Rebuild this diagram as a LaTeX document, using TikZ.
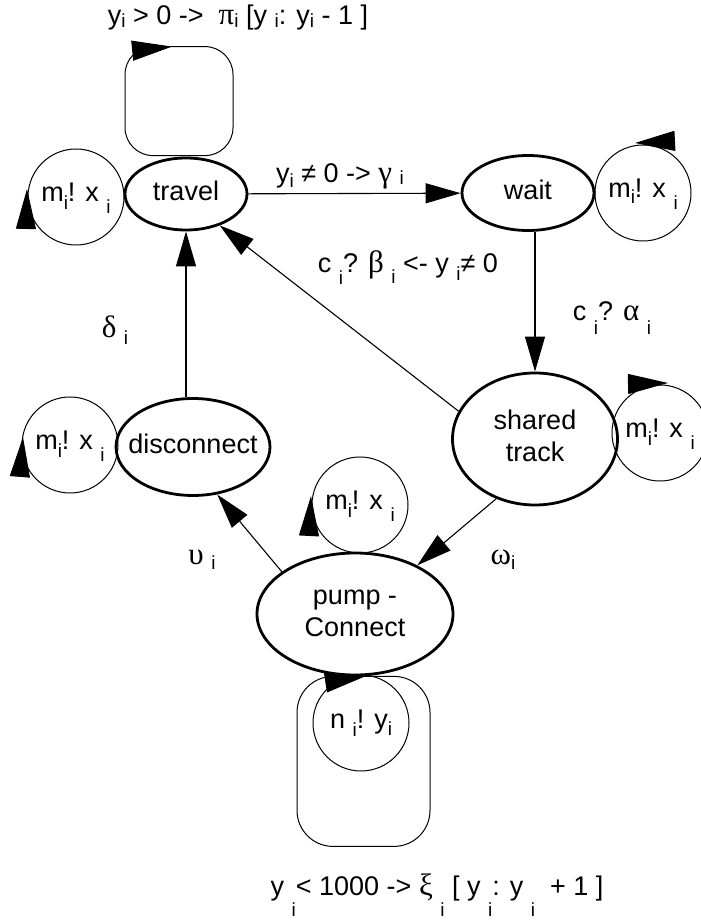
\documentclass[tikz,border=0pt]{standalone}
\usepackage{fontspec}
\setmainfont{Liberation Sans}
\newfontfamily\grk{Liberation Serif}
\usetikzlibrary{arrows.meta,shapes.geometric,calc}
% lowered small index letter
\newcommand{\lo}[2][0.3em]{\raisebox{-#1}{\fontsize{19}{19}\selectfont #2}}
\newcommand{\gk}[1]{{\grk\fontsize{31}{31}\selectfont #1}}
% zero-width text so the shape keeps its own size
\newcommand{\ctr}[1]{\makebox[0pt][c]{\begin{tabular}{@{}c@{}}#1\end{tabular}}}
\begin{document}
\begin{tikzpicture}[x=1pt,y=1pt,
  state/.style={draw, ellipse, line width=2.8pt, inner sep=0pt,
    font=\fontsize{27}{32}\selectfont},
  selfc/.style={draw, circle, line width=1pt, minimum size=96pt, inner sep=0pt,
    font=\fontsize{27}{29}\selectfont},
  edge/.style={line width=1.1pt, -{Triangle[length=35pt,width=20pt]}},
  looptip/.style={line width=1pt, -{Triangle[length=40pt,width=20pt]}},
  loopbox/.style={draw, line width=1pt},
  lab/.style={font=\fontsize{27}{29}\selectfont, inner sep=0pt}
]
\useasboundingbox (0,0) rectangle (701,924);

% states
\node[state, minimum width=122pt, minimum height=72pt] (travel) at (186,730) {\ctr{travel}};
\node[state, minimum width=132pt, minimum height=75pt] (wait) at (528,731) {\ctr{wait}};
\node[state, minimum width=165pt, minimum height=132pt] (shared) at (535,485) {\ctr{shared\\track}};
\node[state, minimum width=154pt, minimum height=97pt] (disconnect) at (193,477) {\ctr{disconnect}};
\node[state, minimum width=196pt, minimum height=122pt] (pump) at (355,310) {\ctr{pump -\\Connect}};

% output self-loops
\node[selfc] (c1) at (76,727) {\ctr{m\lo[0.3em]{i}! x \lo[0.45em]{i}}};
\node[selfc] (c2) at (643,731) {\ctr{m\lo[0.25em]{i}! x \lo[0.45em]{i}}};
\node[selfc] (c3) at (660,491) {\ctr{m\lo[0.3em]{i}! x \lo[0.45em]{i}}};
\node[selfc] (c4) at (70,479) {\ctr{m\lo[0.3em]{i}! x \lo[0.45em]{i}}};
\node[selfc] (c5) at (360,419) {\ctr{m\lo[0.3em]{i}! x \lo[0.45em]{i}}};
\node[selfc] (c6) at (361,201) {\ctr{n \lo[0.3em]{i}! y\lo[0.25em]{i}}};

\draw[looptip] ($(c1.center)+(-50,-30)$) -- ($(c1.center)+(-49,8)$);
\draw[looptip] ($(c2.center)+(30,52)$) -- ($(c2.center)+(-8,50)$);
\draw[looptip] ($(c3.center)+(-32,49)$) -- ($(c3.center)+(8,50)$);
\draw[looptip] ($(c4.center)+(-50,-30)$) -- ($(c4.center)+(-47,8)$);
\draw[looptip] ($(c5.center)+(-51,-30)$) -- ($(c5.center)+(-49,9)$);

% counter loops
\draw[loopbox, rounded corners=28pt] ($(travel.north)+(-61,1)$) rectangle ($(travel.north)+(47,110)$);
\draw[looptip] ($(travel.north)+(-53,106)$) -- ($(travel.north)+(-14,110)$);
\draw[loopbox, rounded corners=36pt] ($(pump.south)+(-58,0)$) rectangle ($(pump.south)+(75,-170)$);
\draw[looptip] ($(pump.south)+(-29,-6)$) -- ($(pump.south)+(10,0)$);

% transitions
\draw[edge] (travel) -- (wait);
\draw[edge] (wait.south -| shared.north) -- (shared.north);
\draw[edge] (shared.160) -- (travel.-43);
\draw[edge] (shared.237) -- (pump.38);
\draw[edge] (pump.150) -- (disconnect.-63);
\draw[edge] (disconnect.north -| travel.south) -- (travel.south);

% labels
\node[lab] (ltop) at (238,906) {y\lo[0.1em]{i} > 0 ->\ \ \gk{π}\lo[0.1em]{i} [y \lo[0.1em]{i}: y\lo[0.1em]{i} - 1 ]};
\node[lab] (lgam) at (340,748) {y\lo[0.2em]{i} ≠ 0 -> \gk{γ} \lo[0.1em]{i}};
\node[lab] (lbet) at (408,656) {c \lo[0.45em]{i}? \gk{β} \lo[0.4em]{i} <- y \lo[0.3em]{i}≠ 0};
\node[lab] (lalp) at (612,606) {c \lo[0.5em]{i}? \gk{α} \lo[0.5em]{i}};
\node[lab] (ldel) at (115,594) {\gk{δ} \lo[0.25em]{i}};
\node[lab] (lups) at (202,364) {\gk{υ} \lo[0.2em]{i}};
\node[lab] (lome) at (503,364) {\gk{ω}\lo[0.2em]{i}};
\node[lab] (lbot) at (437,29) {y \lo[0.8em]{i}< 1000 ->\ \gk{ξ} \lo[0.8em]{i} [ y \lo[0.8em]{i}: y \lo[0.8em]{i} \ + 1 ]};
\end{tikzpicture}
\end{document}
